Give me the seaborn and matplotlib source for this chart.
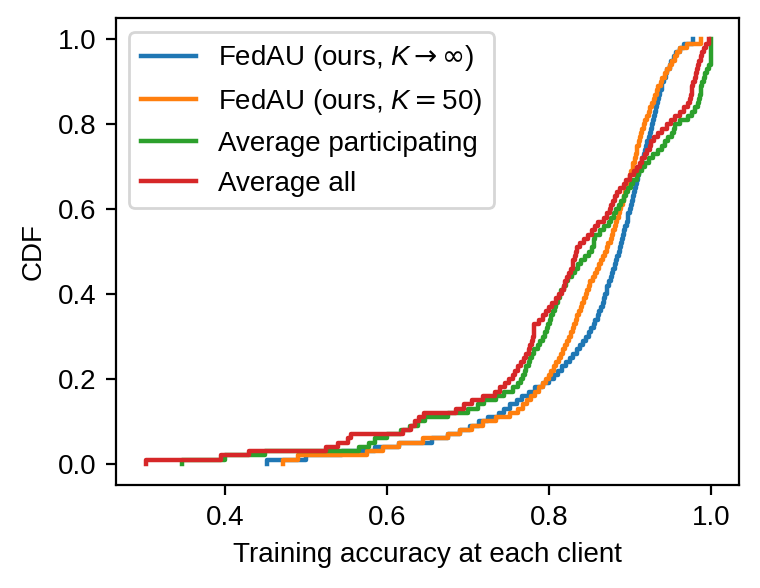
import pandas as pd
import matplotlib
matplotlib.use("Agg")
import matplotlib.pyplot as plt
import seaborn as sns

# Per-client training accuracy, one list per method
fedau_inf = [
    0.452, 0.500, 0.545, 0.585, 0.615, 0.655, 0.675, 0.690, 0.702, 0.714,
    0.725, 0.738, 0.745, 0.752, 0.760, 0.767, 0.775, 0.783, 0.792, 0.800,
    0.806, 0.811, 0.816, 0.821, 0.826, 0.830, 0.834, 0.838, 0.842, 0.845,
    0.849, 0.852, 0.855, 0.857, 0.860, 0.862, 0.864, 0.866, 0.868, 0.869,
    0.871, 0.872, 0.874, 0.876, 0.878, 0.879, 0.881, 0.883, 0.884, 0.886,
    0.887, 0.889, 0.890, 0.891, 0.893, 0.894, 0.896, 0.897, 0.898, 0.900,
    0.901, 0.902, 0.904, 0.905, 0.906, 0.907, 0.909, 0.910, 0.911, 0.912,
    0.914, 0.915, 0.917, 0.918, 0.920, 0.921, 0.923, 0.924, 0.926, 0.927,
    0.928, 0.930, 0.931, 0.932, 0.933, 0.935, 0.936, 0.937, 0.939, 0.940,
    0.942, 0.944, 0.946, 0.949, 0.951, 0.954, 0.957, 0.961, 0.966, 0.978,
]
fedau_50 = [
    0.472, 0.490, 0.575, 0.595, 0.615, 0.645, 0.675, 0.690, 0.705, 0.718,
    0.735, 0.752, 0.762, 0.768, 0.773, 0.778, 0.783, 0.788, 0.792, 0.796,
    0.800, 0.803, 0.806, 0.809, 0.812, 0.815, 0.817, 0.820, 0.822, 0.825,
    0.827, 0.829, 0.831, 0.833, 0.835, 0.837, 0.839, 0.841, 0.843, 0.845,
    0.847, 0.849, 0.851, 0.854, 0.857, 0.859, 0.862, 0.864, 0.866, 0.869,
    0.871, 0.873, 0.876, 0.878, 0.879, 0.881, 0.883, 0.884, 0.886, 0.888,
    0.889, 0.891, 0.892, 0.894, 0.895, 0.897, 0.898, 0.900, 0.901, 0.903,
    0.904, 0.906, 0.907, 0.908, 0.909, 0.911, 0.912, 0.914, 0.915, 0.917,
    0.919, 0.921, 0.923, 0.925, 0.927, 0.929, 0.931, 0.933, 0.935, 0.938,
    0.940, 0.943, 0.946, 0.949, 0.952, 0.955, 0.958, 0.962, 0.970, 0.988,
]
avg_participating = [
    0.347, 0.400, 0.450, 0.565, 0.578, 0.585, 0.600, 0.617, 0.628, 0.638,
    0.647, 0.675, 0.700, 0.712, 0.720, 0.735, 0.745, 0.756, 0.762, 0.765,
    0.768, 0.770, 0.772, 0.775, 0.777, 0.779, 0.782, 0.786, 0.789, 0.792,
    0.795, 0.797, 0.799, 0.801, 0.803, 0.805, 0.807, 0.809, 0.811, 0.813,
    0.815, 0.818, 0.821, 0.824, 0.828, 0.832, 0.836, 0.840, 0.844, 0.849,
    0.853, 0.855, 0.856, 0.857, 0.863, 0.868, 0.874, 0.877, 0.880, 0.883,
    0.886, 0.889, 0.892, 0.895, 0.898, 0.901, 0.904, 0.908, 0.911, 0.915,
    0.918, 0.923, 0.928, 0.934, 0.939, 0.943, 0.947, 0.952, 0.954, 0.955,
    0.962, 0.972, 0.976, 0.980, 0.984, 0.985, 0.986, 0.987, 0.988, 0.989,
    0.991, 0.993, 0.995, 0.997, 1.000, 1.000, 1.000, 1.000, 1.000, 1.000,
]
avg_all = [
    0.302, 0.395, 0.430, 0.525, 0.540, 0.552, 0.556, 0.620, 0.630, 0.635,
    0.640, 0.646, 0.685, 0.695, 0.705, 0.718, 0.733, 0.739, 0.746, 0.751,
    0.755, 0.758, 0.762, 0.766, 0.769, 0.772, 0.775, 0.777, 0.779, 0.780,
    0.781, 0.782, 0.782, 0.787, 0.792, 0.796, 0.800, 0.804, 0.808, 0.812,
    0.816, 0.818, 0.820, 0.822, 0.825, 0.827, 0.829, 0.830, 0.832, 0.833,
    0.834, 0.838, 0.843, 0.848, 0.853, 0.857, 0.861, 0.868, 0.872, 0.875,
    0.877, 0.879, 0.881, 0.884, 0.888, 0.892, 0.895, 0.900, 0.905, 0.908,
    0.912, 0.915, 0.918, 0.921, 0.924, 0.926, 0.929, 0.935, 0.940, 0.945,
    0.950, 0.956, 0.961, 0.966, 0.972, 0.974, 0.975, 0.976, 0.977, 0.978,
    0.980, 0.981, 0.983, 0.984, 0.985, 0.987, 0.989, 0.991, 0.994, 0.997,
]

labels = [
    r"FedAU (ours, $K \rightarrow \infty$)",
    r"FedAU (ours, $K =$50)",
    "Average participating",
    "Average all",
]
series = [fedau_inf, fedau_50, avg_participating, avg_all]
colors = sns.color_palette("tab10", 4)

plt.rcParams["font.family"] = ["Liberation Sans", "DejaVu Sans"]
plt.rcParams["mathtext.fontset"] = "custom"
plt.rcParams["mathtext.rm"] = "DejaVu Sans"
plt.rcParams["mathtext.it"] = "Liberation Sans:italic"
plt.rcParams["font.size"] = 10

fig, ax = plt.subplots(figsize=(3.8, 2.94), dpi=200)
for vals, lab, col in zip(series, labels, colors):
    sns.ecdfplot(x=vals, ax=ax, label=lab, color=col, linewidth=1.6)

ax.set_xlabel("Training accuracy at each client")
ax.set_ylabel("CDF")
ax.set_xlim(0.265, 1.035)
ax.set_ylim(-0.05, 1.05)
ax.set_xticks([0.4, 0.6, 0.8, 1.0])
ax.set_yticks([0.0, 0.2, 0.4, 0.6, 0.8, 1.0])
ax.legend(loc="upper left")

plt.subplots_adjust(left=0.152, right=0.973, top=0.969, bottom=0.175)
plt.savefig("out.png", dpi=200)
plt.close()
